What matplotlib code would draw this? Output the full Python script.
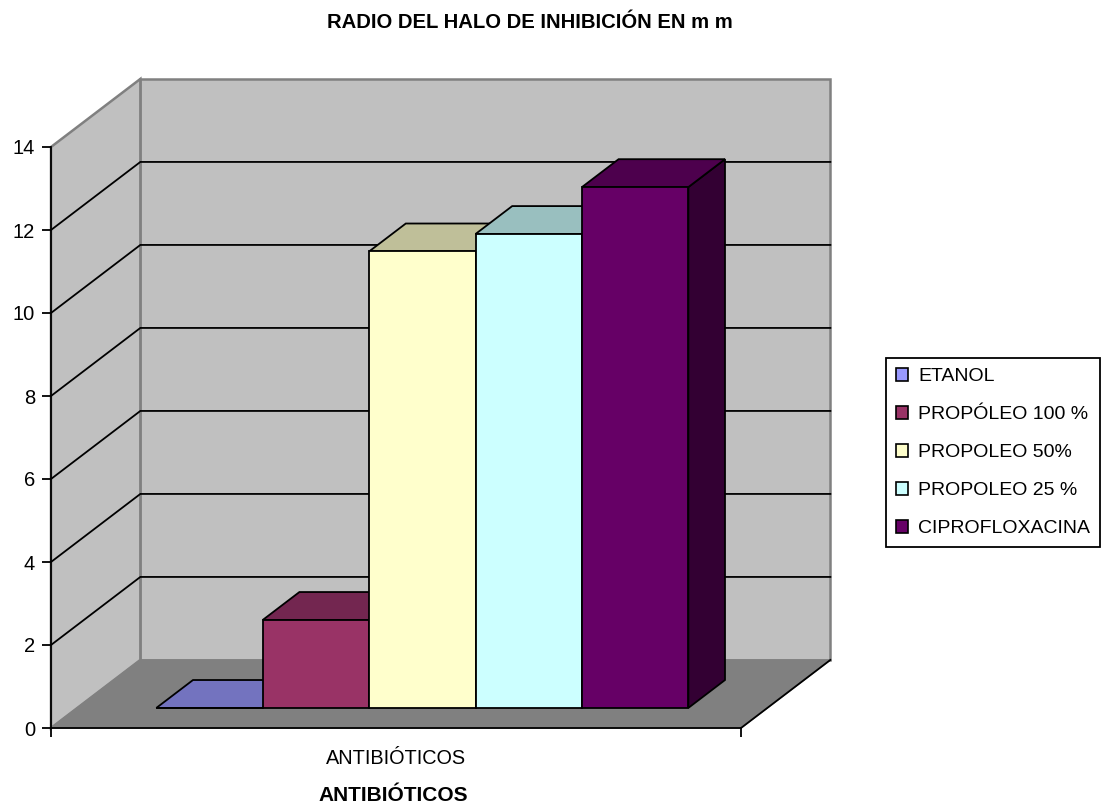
import matplotlib
matplotlib.use('Agg')
import matplotlib.pyplot as plt
from matplotlib.patches import Polygon, Patch

plt.rcParams['font.family'] = ['Liberation Sans', 'DejaVu Sans']

# datos
series = ['ETANOL', 'PROPÓLEO 100 %', 'PROPOLEO 50%', 'PROPOLEO 25 %', 'CIPROFLOXACINA']
values = [0, 2.12, 11.0, 11.42, 12.55]
face_colors = ['#9999FF', '#993366', '#FFFFCC', '#CCFFFF', '#660066']
top_colors = ['#7373BF', '#732650', '#BFBF99', '#99BFBF', '#4D004D']
side_colors = ['#4D4D80', '#4D1A33', '#808066', '#668080', '#330033']
y_ticks = [0, 2, 4, 6, 8, 10, 12, 14]
category = 'ANTIBIÓTICOS'

# fondo de la perspectiva: desplazamiento de la pared trasera en unidades de datos
depth_x = 0.1295
depth_y = 1.64
bar_width = 0.1542
bar_start = 0.1145
bar_d0 = 0.295
bar_d1 = 0.705


def project(x, v, d=0.0):
    return (x + d * depth_x, v + d * depth_y)


def poly(ax, pts, fc, ec='black', lw=1.3, z=2):
    ax.add_patch(Polygon(pts, closed=True, facecolor=fc, edgecolor=ec, linewidth=lw,
                         joinstyle='miter', clip_on=False, zorder=z))


fig = plt.figure(figsize=(11.05, 8.07), dpi=100)
ax = fig.add_axes([51 / 1105, (807 - 728) / 807, 690 / 1105, 581 / 807])
ax.set_xlim(0, 1)
ax.set_ylim(0, 14)
ax.patch.set_visible(False)

# paredes y suelo
poly(ax, [project(0, 0, 1), project(1, 0, 1), project(1, 14, 1), project(0, 14, 1)],
     '#C0C0C0', '#808080', 1.8, 1)
poly(ax, [project(0, 0), project(0, 0, 1), project(0, 14, 1), project(0, 14)],
     '#C0C0C0', '#808080', 1.8, 1)
poly(ax, [project(0, 0), project(1, 0), project(1, 0, 1), project(0, 0, 1)],
     '#808080', '#808080', 1.0, 1.5)

# lineas de division
for t in y_ticks[1:-1]:
    a = project(0, t)
    b = project(0, t, 1)
    c = project(1, t, 1)
    ax.plot([a[0], b[0], c[0]], [a[1], b[1], c[1]], color='black', lw=1.3,
            clip_on=False, zorder=1.2, solid_joinstyle='miter')

# borde derecho del suelo
r0 = project(1, 0)
r1 = project(1, 0, 1)
ax.plot([r0[0], r1[0]], [r0[1], r1[1]], color='black', lw=1.3, clip_on=False, zorder=1.6)

# barras
for i in range(len(series)):
    x0 = bar_start + i * bar_width
    x1 = x0 + bar_width
    v = values[i]
    z = 2 + i * 0.1
    poly(ax, [project(x1, 0, bar_d0), project(x1, 0, bar_d1), project(x1, v, bar_d1), project(x1, v, bar_d0)],
         side_colors[i], z=z)
    poly(ax, [project(x0, v, bar_d0), project(x1, v, bar_d0), project(x1, v, bar_d1), project(x0, v, bar_d1)],
         top_colors[i], z=z)
    poly(ax, [project(x0, 0, bar_d0), project(x1, 0, bar_d0), project(x1, v, bar_d0), project(x0, v, bar_d0)],
         face_colors[i], z=z)

# ejes
for s in ['top', 'right']:
    ax.spines[s].set_visible(False)
for s in ['left', 'bottom']:
    ax.spines[s].set_linewidth(1.3)
    ax.spines[s].set_zorder(5)
ax.set_yticks(y_ticks)
ax.set_xticks([0, 1])
ax.set_xticklabels([])
ax.tick_params(axis='both', length=6.5, width=1.3, color='black')
ax.tick_params(axis='y', labelsize=14.5, pad=5)
ax.text(0.5, -0.052, category, transform=ax.transAxes, ha='center', va='center', fontsize=14.3)
ax.text(0.496, -0.1155, category, transform=ax.transAxes, ha='center', va='center',
        fontsize=15, fontweight='bold')

fig.text(530 / 1105, 1 - 23 / 807, 'RADIO DEL HALO DE INHIBICIÓN EN m m', ha='center', va='center',
         fontsize=14.6, fontweight='bold')

# leyenda
handles = [Patch(facecolor=c, edgecolor='black', linewidth=1.2) for c in face_colors]
leg = fig.legend(handles, series, loc='upper left', bbox_to_anchor=(886 / 1105, 1 - 358 / 807),
                 fontsize=14.0, frameon=True, fancybox=False, framealpha=1, edgecolor='black',
                 handlelength=0.62, handleheight=0.62, handletextpad=0.5, labelspacing=1.07,
                 borderpad=0.52, borderaxespad=0)
leg.get_frame().set_linewidth(1.3)

fig.savefig('out.png', dpi=100)
